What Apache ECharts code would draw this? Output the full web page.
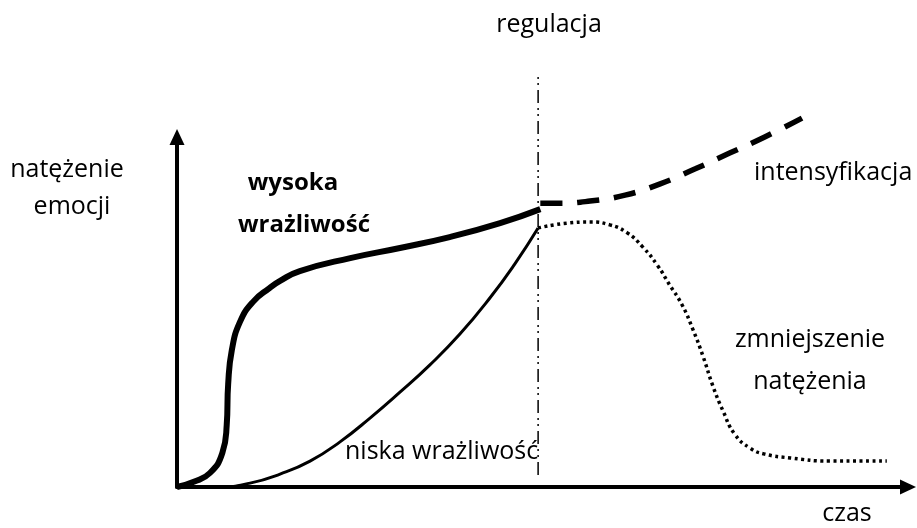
<!DOCTYPE html>
<html>
<head>
<meta charset="utf-8">
<script src="https://cdn.jsdelivr.net/npm/echarts@6/dist/echarts.min.js"></script>
<style>
  html, body { margin: 0; padding: 0; background: #fff; }
  #main { width: 917px; height: 528px; }
</style>
</head>
<body>
<div id="main"></div>
<script>
// czas (x) / natezenie emocji (y), both on a 0..100 scale
var highX = [0, 2.3, 4.5, 6.2, 6.8, 7.0, 7.5, 8.6, 10.4, 12.7, 14.1, 16.8, 23.7, 30.5, 37.3, 44.2, 49.7];
var highY = [0, 1.5, 4.0, 9.7, 17.7, 29.4, 39.1, 47.1, 52.9, 56.9, 58.9, 61.7, 65.4, 68.3, 71.4, 75.4, 79.4];

var lowX = [0, 5.9, 10.0, 14.1, 18.2, 22.3, 26.4, 30.5, 34.6, 38.7, 42.8, 46.2, 49.4];
var lowY = [0, 0, 1.1, 3.7, 7.4, 12.9, 19.7, 27.1, 34.9, 43.7, 54.0, 63.7, 74.0];

var intensX = [49.7, 52.4, 56.5, 61.3, 66.1, 70.9, 75.6, 80.4, 85.5];
var intensY = [81.1, 81.1, 81.7, 83.4, 86.6, 90.9, 95.4, 100, 105.4];

var reduceX = [49.4, 53.4, 56.5, 59.2, 61.6, 63.7, 65.7, 67.4, 69.1, 70.6, 72.0, 73.3, 74.7, 76.3, 78.4, 80.4, 83.9, 89.3, 97.1];
var reduceY = [74.0, 75.4, 75.7, 74.9, 72.6, 68.6, 63.4, 57.7, 52.0, 44.9, 37.1, 28.9, 21.7, 15.1, 11.1, 9.4, 8.3, 7.4, 7.4];

var regX = [49.4, 49.4];
var regY = [3.4, 118.6];

function pairs(xs, ys) {
    var out = [];
    for (var i = 0; i < xs.length; i++) {
        out.push([xs[i], ys[i]]);
    }
    return out;
}

var font = '"Open Sans", sans-serif';

function label(text, x, y, align, bold) {
    return {
        type: 'text',
        x: x,
        y: y,
        style: {
            text: text,
            fill: '#000',
            font: (bold ? 'bold 24px ' : '25px ') + font,
            align: align,
            verticalAlign: 'middle'
        }
    };
}

var axisStyle = {
    show: true,
    onZero: false,
    symbol: ['none', 'triangle'],
    symbolSize: [15, 16],
    lineStyle: { color: '#000', width: 4 }
};

var option = {
    animation: false,
    backgroundColor: '#fff',
    grid: { left: 177, right: 9, top: 137, bottom: 41 },
    xAxis: {
        type: 'value', min: 0, max: 100,
        axisLine: axisStyle,
        axisTick: { show: false },
        axisLabel: { show: false },
        splitLine: { show: false }
    },
    yAxis: {
        type: 'value', min: 0, max: 100,
        axisLine: axisStyle,
        axisTick: { show: false },
        axisLabel: { show: false },
        splitLine: { show: false }
    },
    series: [
        {
            name: 'regulacja', type: 'line', data: pairs(regX, regY),
            symbol: 'none', clip: false,
            lineStyle: { color: '#000', width: 1.5, type: [13, 5, 2, 4, 2, 5] }
        },
        {
            name: 'niska wrażliwość', type: 'line', data: pairs(lowX, lowY),
            symbol: 'none', smooth: true, clip: false,
            lineStyle: { color: '#000', width: 3 }
        },
        {
            name: 'wysoka wrażliwość', type: 'line', data: pairs(highX, highY),
            symbol: 'none', smooth: true, clip: false,
            lineStyle: { color: '#000', width: 6 }
        },
        {
            name: 'intensyfikacja', type: 'line', data: pairs(intensX, intensY),
            symbol: 'none', smooth: true, clip: false,
            lineStyle: { color: '#000', width: 5.5, type: [22, 15], cap: 'butt' }
        },
        {
            name: 'zmniejszenie natężenia', type: 'line', data: pairs(reduceX, reduceY),
            symbol: 'none', smooth: true, clip: false,
            lineStyle: { color: '#000', width: 3.5, type: [3, 3.5], cap: 'butt' }
        }
    ],
    graphic: [
        label('regulacja', 549, 25, 'center'),
        label('natężenie', 67, 170, 'center'),
        label('emocji', 72, 207, 'center'),
        label('wysoka', 293, 183, 'center', true),
        label('wrażliwość', 304, 225, 'center', true),
        label('intensyfikacja', 754, 173, 'left'),
        label('zmniejszenie', 810, 340, 'center'),
        label('natężenia', 810, 382, 'center'),
        label('niska wrażliwość', 345, 452, 'left'),
        label('czas', 847, 514, 'center')
    ]
};

echarts.init(document.getElementById('main')).setOption(option);
</script>
</body>
</html>
